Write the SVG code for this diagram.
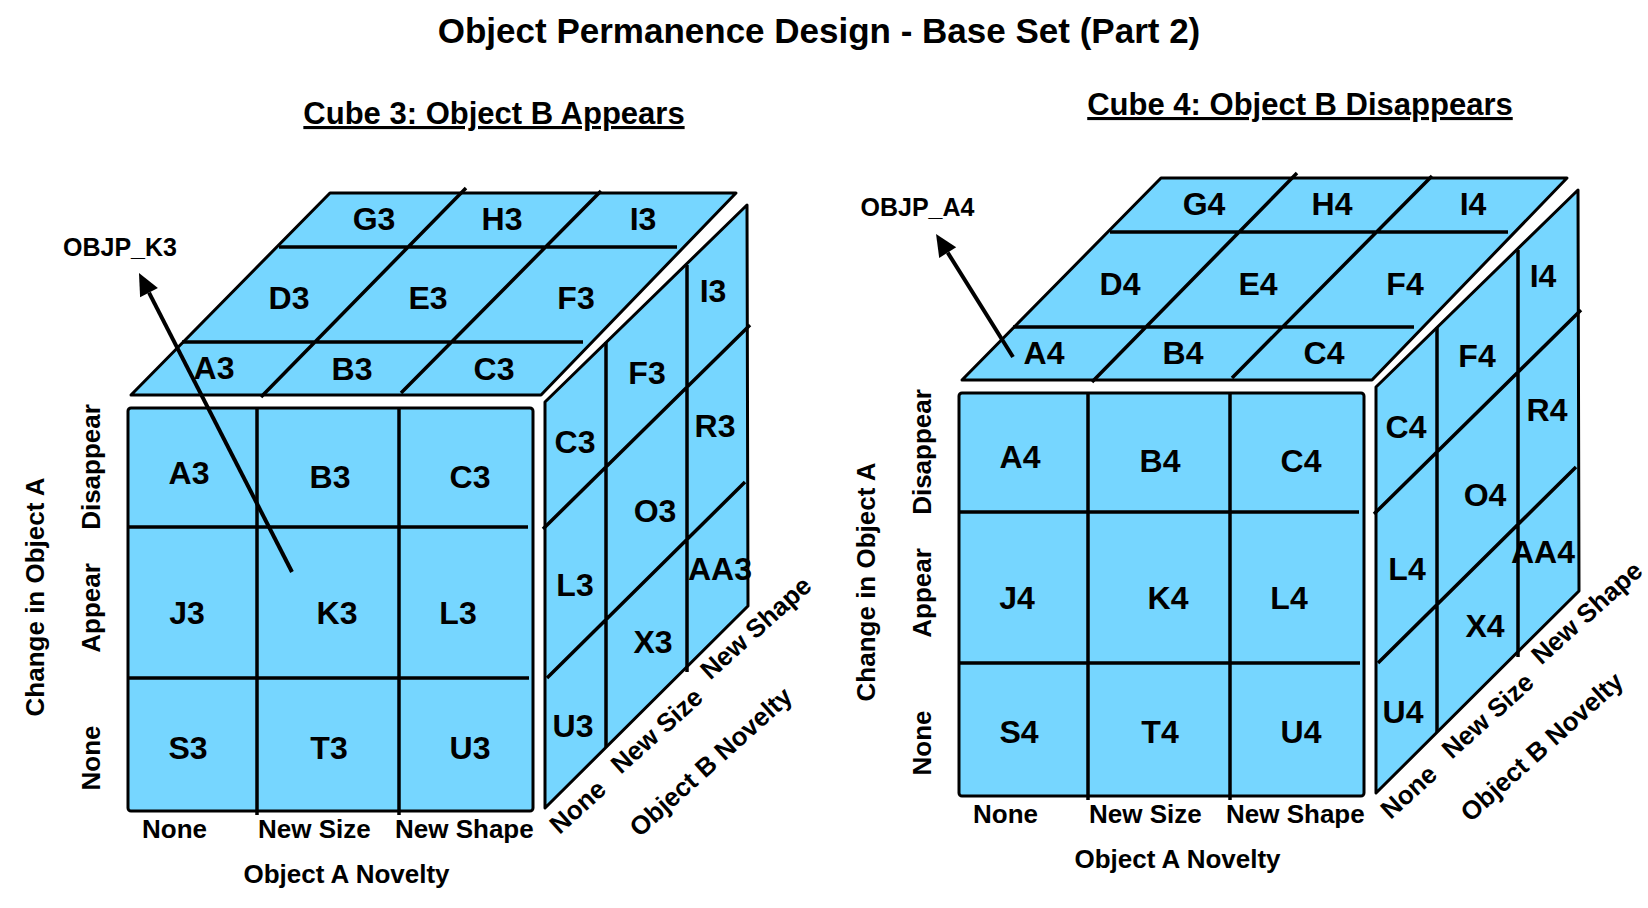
<svg xmlns="http://www.w3.org/2000/svg" width="1648" height="908" viewBox="0 0 1648 908">
<defs>
<style>
text{font-family:"Liberation Sans",Arial,Helvetica,sans-serif;font-weight:bold;fill:#000}
.face{fill:#76D6FF;stroke:#000;stroke-width:3;stroke-linejoin:round}
.grid{fill:none;stroke:#000;stroke-width:3.5}
.cell{font-size:32px;text-anchor:middle}
.ax{font-size:26px}
.axm{font-size:26px;text-anchor:middle}
.title{font-size:35px;text-anchor:middle}
.sub{font-size:31px;text-anchor:middle;text-decoration:underline}
.lbl{font-size:25px;text-anchor:middle}
.arrow{fill:none;stroke:#000;stroke-width:4}
</style>
<marker id="ah" markerUnits="userSpaceOnUse" markerWidth="24" markerHeight="22" viewBox="0 -11 24 22" refX="0" refY="0" orient="auto" overflow="visible">
<path d="M0,-10 L22,0 L0,10 z" fill="#000"/>
</marker>
</defs>
<rect width="1648" height="908" fill="#fff"/>

<text class="title" x="819" y="43">Object Permanence Design - Base Set (Part 2)</text>
<text id="sub3" class="sub" x="494" y="124">Cube 3: Object B Appears</text>
<text id="sub4" class="sub" x="1300" y="115">Cube 4: Object B Disappears</text>

<g id="cube3">
  <g id="cube3-top">
    <polygon class="face" points="330,193 736,193 541,395 131,395"/>
    <path class="grid" d="M279,247 H677 M182,342 H583 M466,188 L261,397 M601,191 L401,393"/>
    <text class="cell" x="374" y="229.5">G3</text>
    <text class="cell" x="502" y="229.5">H3</text>
    <text class="cell" x="643" y="229.5">I3</text>
    <text class="cell" x="289" y="308.5">D3</text>
    <text class="cell" x="428" y="308.5">E3</text>
    <text class="cell" x="576" y="308.5">F3</text>
    <text class="cell" x="214" y="378.5">A3</text>
    <text class="cell" x="352" y="379.5">B3</text>
    <text class="cell" x="494" y="379.5">C3</text>
  </g>
  <g id="cube3-front">
    <rect class="face" x="128" y="408" width="405" height="403" rx="3"/>
    <path class="grid" d="M257,408 V815 M399,408 V815 M128,527 H528 M128,678 H529"/>
    <text class="cell" x="189" y="483.5">A3</text>
    <text class="cell" x="330" y="487.5">B3</text>
    <text class="cell" x="470" y="487.5">C3</text>
    <text class="cell" x="187" y="623.5">J3</text>
    <text class="cell" x="337" y="623.5">K3</text>
    <text class="cell" x="458" y="623.5">L3</text>
    <text class="cell" x="188" y="758.5">S3</text>
    <text class="cell" x="329" y="758.5">T3</text>
    <text class="cell" x="470" y="758.5">U3</text>
  </g>
  <g id="cube3-right">
    <polygon class="face" points="545,402 747,205 748,606 545,808"/>
    <path class="grid" d="M606,342 V747 M687,265 V672 M543,529 L750,325 M547,678 L745,482"/>
    <text class="cell" x="713" y="301.5">I3</text>
    <text class="cell" x="647" y="383.5">F3</text>
    <text class="cell" x="575" y="452.5">C3</text>
    <text class="cell" x="715" y="436.5">R3</text>
    <text class="cell" x="655" y="521.5">O3</text>
    <text class="cell" x="575" y="595.5">L3</text>
    <text class="cell" x="720" y="579.5">AA3</text>
    <text class="cell" x="653" y="652.5">X3</text>
    <text class="cell" x="573" y="736.5">U3</text>
  </g>
  <g id="cube3-axes">
    <text class="ax" x="142" y="838">None</text>
    <text class="ax" x="258" y="838">New Size</text>
    <text class="ax" x="395" y="838">New Shape</text>
    <text class="axm" x="346.5" y="883">Object A Novelty</text>
    <text class="axm" transform="translate(100,467) rotate(-90)">Disappear</text>
    <text class="axm" transform="translate(100,608) rotate(-90)">Appear</text>
    <text class="axm" transform="translate(100,758) rotate(-90)">None</text>
    <text class="axm" transform="translate(44,597) rotate(-90)">Change in Object A</text>
    <text class="axm" transform="translate(583.7,813.4) rotate(-42)">None</text>
    <text class="axm" transform="translate(662.7,737.4) rotate(-42)">New Size</text>
    <text class="axm" transform="translate(761.7,634.4) rotate(-42)">New Shape</text>
    <text class="axm" transform="translate(716.7,768.4) rotate(-42)">Object B Novelty</text>
  </g>
</g>

<g id="cube4" transform="translate(831,-15)">
  <g id="cube4-top">
    <polygon class="face" points="330,193 736,193 541,395 131,395"/>
    <path class="grid" d="M279,247 H677 M182,342 H583 M466,188 L261,397 M601,191 L401,393"/>
    <text class="cell" x="373" y="229.5">G4</text>
    <text class="cell" x="501" y="229.5">H4</text>
    <text class="cell" x="642" y="229.5">I4</text>
    <text class="cell" x="289" y="309.5">D4</text>
    <text class="cell" x="427" y="309.5">E4</text>
    <text class="cell" x="574" y="309.5">F4</text>
    <text class="cell" x="213" y="378.5">A4</text>
    <text class="cell" x="352" y="378.5">B4</text>
    <text class="cell" x="493" y="378.5">C4</text>
  </g>
  <g id="cube4-front">
    <rect class="face" x="128" y="408" width="405" height="403" rx="3"/>
    <path class="grid" d="M257,408 V815 M399,408 V815 M128,527 H528 M128,678 H529"/>
    <text class="cell" x="189" y="482.5">A4</text>
    <text class="cell" x="329" y="486.5">B4</text>
    <text class="cell" x="470" y="486.5">C4</text>
    <text class="cell" x="186" y="623.5">J4</text>
    <text class="cell" x="337" y="623.5">K4</text>
    <text class="cell" x="458" y="623.5">L4</text>
    <text class="cell" x="188" y="757.5">S4</text>
    <text class="cell" x="329" y="757.5">T4</text>
    <text class="cell" x="470" y="757.5">U4</text>
  </g>
  <g id="cube4-right">
    <polygon class="face" points="545,402 747,205 748,606 545,808"/>
    <path class="grid" d="M606,342 V747 M687,265 V672 M543,529 L750,325 M547,678 L745,482"/>
    <text class="cell" x="712" y="301.5">I4</text>
    <text class="cell" x="646" y="382">F4</text>
    <text class="cell" x="575" y="452.5">C4</text>
    <text class="cell" x="716" y="435.5">R4</text>
    <text class="cell" x="654" y="520.5">O4</text>
    <text class="cell" x="576" y="594.5">L4</text>
    <text class="cell" x="712" y="577.5">AA4</text>
    <text class="cell" x="654" y="651.5">X4</text>
    <text class="cell" x="572" y="737.5">U4</text>
  </g>
  <g id="cube4-axes">
    <text class="ax" x="142" y="838">None</text>
    <text class="ax" x="258" y="838">New Size</text>
    <text class="ax" x="395" y="838">New Shape</text>
    <text class="axm" x="346.5" y="883">Object A Novelty</text>
    <text class="axm" transform="translate(100,467) rotate(-90)">Disappear</text>
    <text class="axm" transform="translate(100,608) rotate(-90)">Appear</text>
    <text class="axm" transform="translate(100,758) rotate(-90)">None</text>
    <text class="axm" transform="translate(44,597) rotate(-90)">Change in Object A</text>
    <text class="axm" transform="translate(583.7,813.4) rotate(-42)">None</text>
    <text class="axm" transform="translate(662.7,737.4) rotate(-42)">New Size</text>
    <text class="axm" transform="translate(761.7,634.4) rotate(-42)">New Shape</text>
    <text class="axm" transform="translate(716.7,768.4) rotate(-42)">Object B Novelty</text>
  </g>
</g>

<g id="connectors">
  <line class="arrow" x1="292" y1="572" x2="149" y2="292.6" marker-end="url(#ah)"/>
  <line class="arrow" x1="1013" y1="357" x2="947.7" y2="252.6" marker-end="url(#ah)"/>
</g>
<g id="label-objp-k3"><text class="lbl" x="120" y="256">OBJP_K3</text></g>
<g id="label-objp-a4"><text class="lbl" x="917.5" y="216">OBJP_A4</text></g>
</svg>
